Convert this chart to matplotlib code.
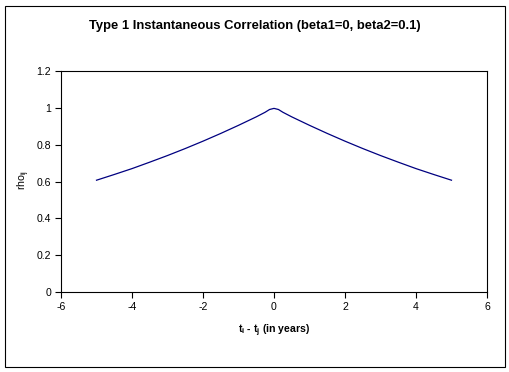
import matplotlib
matplotlib.use('Agg')
import matplotlib.pyplot as plt
from matplotlib.patches import Rectangle

plt.rcParams['font.family'] = 'Liberation Sans'
plt.rcParams['mathtext.fontset'] = 'custom'
plt.rcParams['mathtext.rm'] = 'Liberation Sans'
plt.rcParams['mathtext.it'] = 'Liberation Sans'
plt.rcParams['mathtext.bf'] = 'Liberation Sans:bold'

# values
tdiff = [-5, -4.5, -4, -3.5, -3, -2.5, -2, -1.5, -1, -0.5, -0.25, -0.125, 0,
         0.125, 0.25, 0.5, 1, 1.5, 2, 2.5, 3, 3.5, 4, 4.5, 5]
rho = [0.607, 0.638, 0.670, 0.705, 0.741, 0.779, 0.819, 0.861, 0.905, 0.951, 0.976, 0.991, 0.997,
       0.991, 0.976, 0.951, 0.905, 0.861, 0.819, 0.779, 0.741, 0.705, 0.670, 0.638, 0.607]
xticks = [-6, -4, -2, 0, 2, 4, 6]
yticks = [0, 0.2, 0.4, 0.6, 0.8, 1, 1.2]
ytick_labels = ['0', '0.2', '0.4', '0.6', '0.8', '1', '1.2']

W, H = 510, 372
fig = plt.figure(figsize=(W / 100, H / 100), dpi=100)
fig.patch.set_facecolor('white')

# outer chart frame
fig.patches.append(Rectangle((5 / W, 5 / H), 500 / W, 361 / H, transform=fig.transFigure,
                             fill=False, edgecolor='black', linewidth=0.8))

ax = fig.add_axes([61 / W, (H - 292) / H, 426 / W, 221 / H])
ax.plot(tdiff, rho, color='#000080', linewidth=0.9)

ax.set_xlim(-6, 6)
ax.set_ylim(0, 1.2)
ax.set_xticks(xticks)
ax.set_xticklabels([str(t) for t in xticks])
ax.set_yticks(yticks)
ax.set_yticklabels(ytick_labels)
ax.tick_params(direction='out', length=4, width=0.8, labelsize=7.6, pad=3)
for s in ax.spines.values():
    s.set_linewidth(0.8)

fig.text(0.5, (H - 26) / H, 'Type 1 Instantaneous Correlation (beta1=0, beta2=0.1)',
         ha='center', va='center', fontsize=9.4, fontweight='bold')
fig.text(274 / W, (H - 331) / H, r'$\mathbf{t_i}$ - $\mathbf{t_j}$ (in years)',
         ha='center', va='center', fontsize=7.6, fontweight='bold')
fig.text(24 / W, (H - 180) / H, r'rho$_{\rm ij}$', ha='center', va='center',
         rotation=90, fontsize=7.6)

fig.savefig('out.png', dpi=100)
